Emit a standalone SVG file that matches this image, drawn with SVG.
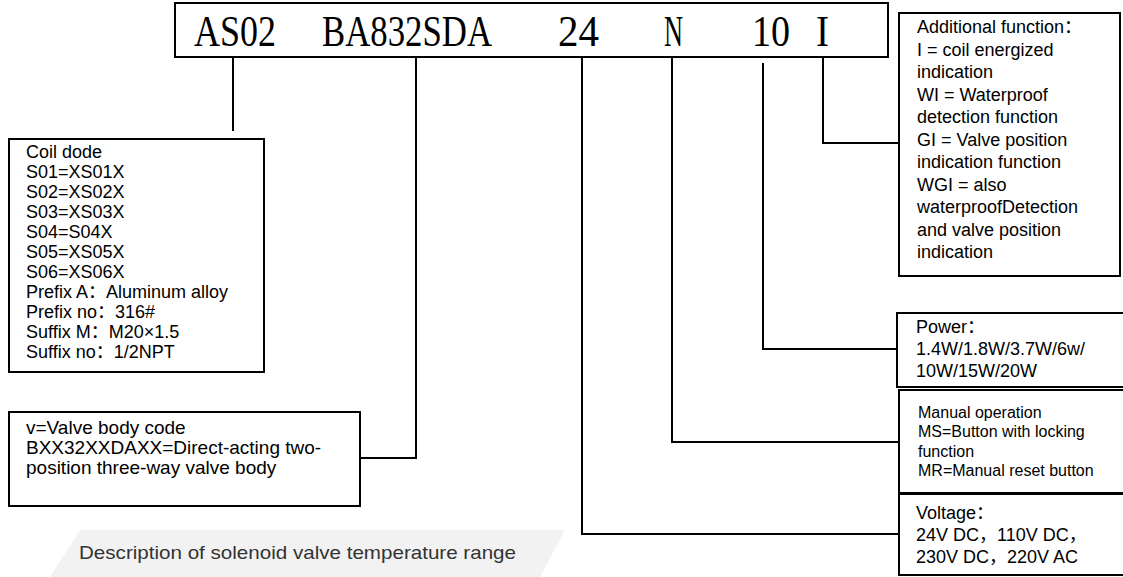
<svg xmlns="http://www.w3.org/2000/svg" width="1123" height="577" viewBox="0 0 1123 577">
<style>
.box{fill:#fff;stroke:#000;stroke-width:2}
.ln{fill:none;stroke:#000;stroke-width:2}
.t{font-family:"Liberation Sans","Noto Sans CJK SC",sans-serif;fill:#000}
.code{font-family:"Liberation Serif","Noto Serif CJK SC",serif;font-size:45px;fill:#000}
</style>
<rect width="1123" height="577" fill="#fff"/>
<g id="desc">
<polygon points="80,530 565,530 540,577 50,577" fill="#f2f2f2"/>
<text class="t" y="559" font-size="18.5" style="fill:#333"><tspan x="79" textLength="437" lengthAdjust="spacingAndGlyphs">Description of solenoid valve temperature range</tspan></text>
</g>
<g id="connectors">
<polyline class="ln" points="233,57 233,131"/>
<polyline class="ln" points="416,57 416,458 360,458"/>
<polyline class="ln" points="582,57 582,534 899,534"/>
<polyline class="ln" points="672,57 672,442 899,442"/>
<polyline class="ln" points="763,63 763,349 897,349"/>
<polyline class="ln" points="823,57 823,143 899,143"/>
</g>
<g id="code">
<rect class="box" x="175" y="3" width="713" height="54"/>
<text class="code" y="46"><tspan x="194" textLength="82" lengthAdjust="spacingAndGlyphs">AS02</tspan></text>
<text class="code" y="46"><tspan x="322" textLength="170" lengthAdjust="spacingAndGlyphs">BA832SDA</tspan></text>
<text class="code" y="46"><tspan x="558" textLength="41" lengthAdjust="spacingAndGlyphs">24</tspan></text>
<text class="code" y="46"><tspan x="664" textLength="19" lengthAdjust="spacingAndGlyphs">N</tspan></text>
<text class="code" y="46"><tspan x="752" textLength="38" lengthAdjust="spacingAndGlyphs">10</tspan></text>
<text class="code" y="46"><tspan x="816" textLength="13" lengthAdjust="spacingAndGlyphs">I</tspan></text>
</g>
<g id="coil">
<rect class="box" x="9" y="139" width="255" height="233"/>
<text class="t" font-size="18">
<tspan x="26" y="158">Coil dode</tspan>
<tspan x="26" y="178">S01=XS01X</tspan>
<tspan x="26" y="198">S02=XS02X</tspan>
<tspan x="26" y="218">S03=XS03X</tspan>
<tspan x="26" y="238">S04=S04X</tspan>
<tspan x="26" y="258">S05=XS05X</tspan>
<tspan x="26" y="278">S06=XS06X</tspan>
<tspan x="26" y="298">Prefix A：Aluminum alloy</tspan>
<tspan x="26" y="318">Prefix no：316#</tspan>
<tspan x="26" y="338">Suffix M：M20×1.5</tspan>
<tspan x="26" y="358">Suffix no：1/2NPT</tspan>
</text>
</g>
<g id="valve">
<rect class="box" x="9" y="412" width="351" height="94"/>
<text class="t" font-size="19">
<tspan x="26" y="434">v=Valve body code</tspan>
<tspan x="26" y="454">BXX32XXDAXX=Direct-acting two-</tspan>
<tspan x="26" y="474">position three-way valve body</tspan>
</text>
</g>
<g id="additional">
<rect class="box" x="899" y="13" width="221" height="263"/>
<text class="t" font-size="18">
<tspan x="917" y="33">Additional function：</tspan>
<tspan x="917" y="55.5">I = coil energized</tspan>
<tspan x="917" y="78">indication</tspan>
<tspan x="917" y="100.5">WI = Waterproof</tspan>
<tspan x="917" y="123">detection function</tspan>
<tspan x="917" y="145.5">GI = Valve position</tspan>
<tspan x="917" y="168">indication function</tspan>
<tspan x="917" y="190.5">WGI = also</tspan>
<tspan x="917" y="213">waterproofDetection</tspan>
<tspan x="917" y="235.5">and valve position</tspan>
<tspan x="917" y="258">indication</tspan>
</text>
</g>
<g id="power">
<rect class="box" x="897" y="313" width="240" height="74"/>
<text class="t" font-size="18">
<tspan x="916" y="333">Power：</tspan>
<tspan x="916" y="355">1.4W/1.8W/3.7W/6w/</tspan>
<tspan x="916" y="377">10W/15W/20W</tspan>
</text>
</g>
<g id="manual">
<rect class="box" x="899" y="390" width="240" height="103"/>
<text class="t" font-size="16">
<tspan x="918" y="418">Manual operation</tspan>
<tspan x="918" y="437">MS=Button with locking</tspan>
<tspan x="918" y="457">function</tspan>
<tspan x="918" y="476">MR=Manual reset button</tspan>
</text>
</g>
<g id="voltage">
<rect class="box" x="899" y="494" width="240" height="81"/>
<text class="t" font-size="18">
<tspan x="916" y="519">Voltage：</tspan>
<tspan x="916" y="541">24V DC，110V DC，</tspan>
<tspan x="916" y="563">230V DC，220V AC</tspan>
</text>
</g>
</svg>
